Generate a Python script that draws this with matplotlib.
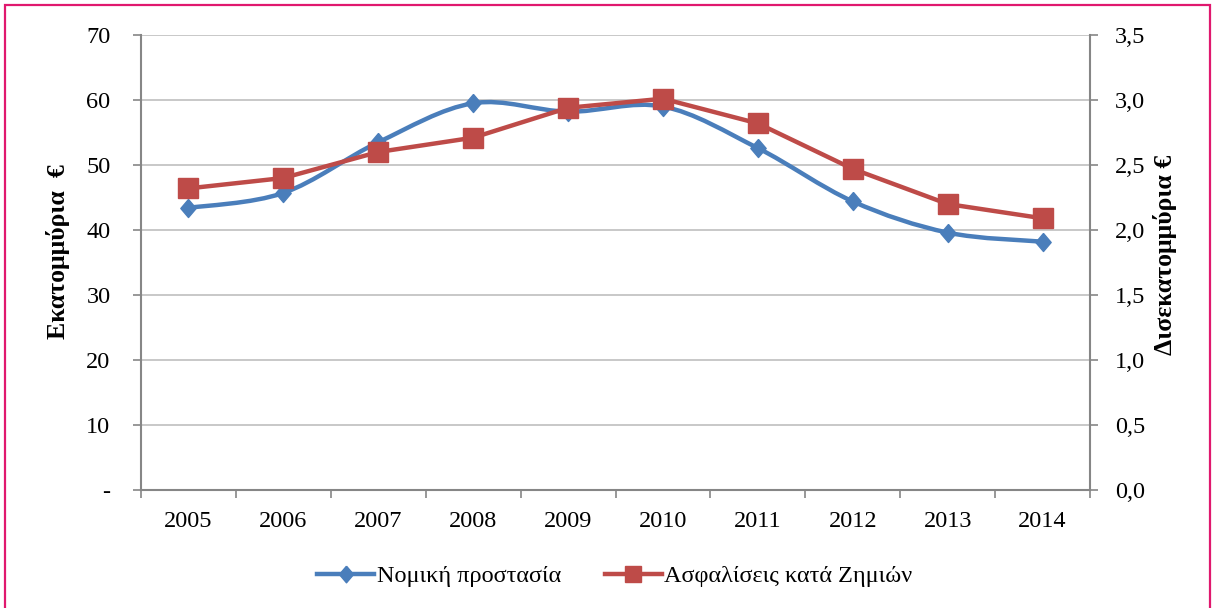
import matplotlib.pyplot as plt
from matplotlib.path import Path
from matplotlib.patches import PathPatch, Rectangle
from matplotlib.lines import Line2D
import numpy as np

plt.rcParams['font.family'] = ['Liberation Serif', 'DejaVu Serif']

years = ['2005', '2006', '2007', '2008', '2009', '2010', '2011', '2012', '2013', '2014']
nomiki = [43.4, 45.7, 53.5, 59.5, 58.2, 59.0, 52.6, 44.4, 39.6, 38.2]
zimion = [2.32, 2.40, 2.60, 2.71, 2.94, 3.01, 2.82, 2.47, 2.20, 2.09]
left_ticks = [0, 10, 20, 30, 40, 50, 60, 70]
left_labels = ['-', '10', '20', '30', '40', '50', '60', '70']
right_ticks = [0, 0.5, 1.0, 1.5, 2.0, 2.5, 3.0, 3.5]
right_labels = ['0,0', '0,5', '1,0', '1,5', '2,0', '2,5', '3,0', '3,5']

blue = '#4A7EBB'
red = '#BE4B48'
grid_c = '#BFBFBF'
spine_c = '#868686'
fs = 17.5

# excel diamond, a little taller than wide
diamond = [(0, 1), (0.85, 0), (0, -1), (-0.85, 0), (0, 1)]

fig = plt.figure(figsize=(12.14, 6.08), dpi=100)
ax = fig.add_axes([141 / 1214, 1 - 490 / 608, 949 / 1214, 455 / 608])
ax2 = ax.twinx()

x = np.arange(len(years))


def smooth_path(xs, ys):
    # smoothed line like excel: bezier pieces, catmull-rom control points
    pts = np.column_stack([xs, ys]).astype(float)
    verts = [pts[0]]
    codes = [Path.MOVETO]
    n = len(pts)
    for i in range(n - 1):
        p0 = pts[max(i - 1, 0)]
        p1 = pts[i]
        p2 = pts[i + 1]
        p3 = pts[min(i + 2, n - 1)]
        c1 = p1 + (p2 - p0) / 6
        c2 = p2 - (p3 - p1) / 6
        verts += [c1, c2, p2]
        codes += [Path.CURVE4] * 3
    return Path(verts, codes)


ax.add_patch(PathPatch(smooth_path(x, nomiki), facecolor='none', edgecolor=blue,
                       lw=3.2, zorder=3, capstyle='round'))
ax.plot(x, nomiki, ls='none', marker=diamond, ms=13, color=blue, zorder=4)

ax2.plot(x, zimion, color=red, lw=3.2, marker='s', ms=14, zorder=4)

ax.set_xlim(-0.5, 9.5)
ax.set_ylim(0, 70)
ax2.set_ylim(0, 3.5)

ax.set_yticks(left_ticks)
ax.set_yticklabels(left_labels, fontsize=fs)
ax2.set_yticks(right_ticks)
ax2.set_yticklabels(right_labels, fontsize=fs)
ax.set_xticks(x)
ax.set_xticklabels(years, fontsize=fs)
ax.set_xticks(np.arange(-0.5, 10, 1), minor=True)
ax.tick_params(axis='x', which='major', length=0, pad=15)
ax.tick_params(axis='x', which='minor', length=6, color=spine_c, width=1.2)
ax.tick_params(axis='y', length=6, color=spine_c, width=1.2, pad=16)
ax2.tick_params(axis='y', length=6, color=spine_c, width=1.2, pad=12)

ax.yaxis.grid(True, color=grid_c, lw=1.2)
ax.set_axisbelow(True)

for a in (ax, ax2):
    a.spines['top'].set_visible(False)
    for s in ('left', 'right', 'bottom'):
        a.spines[s].set_color(spine_c)
        a.spines[s].set_linewidth(1.5)
ax.spines['right'].set_visible(False)
ax2.spines['left'].set_visible(False)
ax2.spines['bottom'].set_visible(False)

ax.set_ylabel('Εκατομμύρια  €', fontsize=18.5, fontweight='bold', va='center')
ax.yaxis.set_label_coords(-0.0875, 0.523)
ax2.set_ylabel('Δισεκατομμύρια €', fontsize=18.5, fontweight='bold', rotation=90, va='center')
ax2.yaxis.set_label_coords(1.079, 0.516)

handles = [Line2D([], [], color=blue, lw=3.2, marker=diamond, ms=12),
           Line2D([], [], color=red, lw=3.2, marker='s', ms=12)]
fig.legend(handles, ['Νομική προστασία', 'Ασφαλίσεις κατά Ζημιών'],
           loc='center', bbox_to_anchor=(615 / 1214, 1 - 576 / 608), ncol=2, frameon=False,
           fontsize=fs, handlelength=2.35, handletextpad=0.1, columnspacing=1.8)

fig.patches.append(Rectangle((5 / 1214, -0.02), 1205 / 1214, 1 - 5 / 608 + 0.02,
                             transform=fig.transFigure, fill=False,
                             edgecolor='#E0186E', lw=1.6))

fig.savefig('out.png', dpi=100)
